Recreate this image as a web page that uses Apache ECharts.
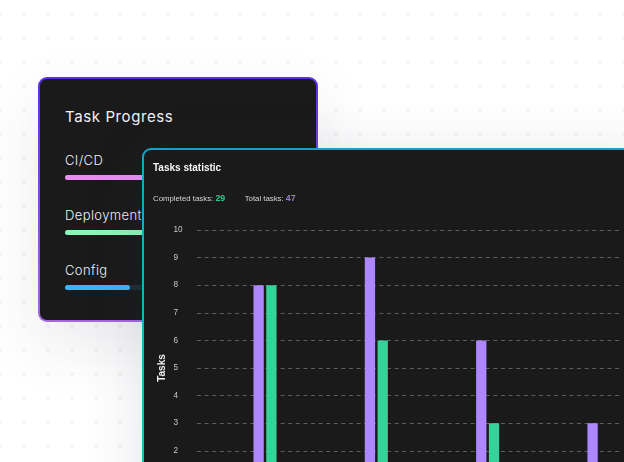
<!DOCTYPE html>
<html lang="en">

<head>
    <meta charset="UTF-8">
    <title>Tasks statistic</title>
    <style>
        * {
            margin: 0;
            padding: 0;
            box-sizing: border-box;
        }

        html,
        body {
            width: 624px;
            height: 462px;
            overflow: hidden;
        }

        body {
            position: relative;
            background-color: #fff;
            background-image: radial-gradient(circle, #f6f6f6 2px, transparent 2.4px);
            background-size: 24px 24px;
            background-position: -12px 2px;
            font-family: "Inter", sans-serif;
        }

        .card {
            position: absolute;
            border-radius: 9px;
            border: 2px solid transparent;
        }

        .progress {
            left: 38px;
            top: 77px;
            width: 280px;
            height: 245px;
            background: linear-gradient(#1a1a1a, #1a1a1a) padding-box, linear-gradient(180deg, #5a2fe6, #a565e0) border-box;
            box-shadow: 0 24px 60px rgba(60, 60, 90, .10);
            color: #f2f2f2;
        }

        .progress h3 {
            position: absolute;
            left: 25px;
            top: 27.5px;
            font-size: 15px;
            font-weight: 400;
            letter-spacing: .6px;
        }

        .row span {
            position: absolute;
            left: 25px;
            font-size: 13px;
            font-weight: 300;
            letter-spacing: .4px;
        }

        .row i {
            position: absolute;
            left: 25px;
            width: 220px;
            height: 5px;
            border-radius: 3px;
        }

        .row b {
            display: block;
            height: 5px;
            border-radius: 3px;
        }

        .stat {
            left: 142px;
            top: 148px;
            width: 520px;
            height: 400px;
            background: linear-gradient(#1a1a1a, #1a1a1a) padding-box, linear-gradient(180deg, #0ea5c9, #22c9a8) border-box;
            box-shadow: 0 10px 60px rgba(60, 60, 90, .14);
        }

        #chart {
            position: absolute;
            left: 0;
            top: 0;
            width: 624px;
            height: 540px;
        }
    </style>
</head>

<body>
    <div class="card progress">
        <h3>Task Progress</h3>
        <div class="row"><span style="top:73px">CI/CD</span><i style="top:96px;background:#3a2a3c"><b
                    style="width:80%;background:#e98df5"></b></i></div>
        <div class="row"><span style="top:128px">Deployment</span><i style="top:151px;background:#20382c"><b
                    style="width:80%;background:#86f9b8"></b></i></div>
        <div class="row"><span style="top:183px">Config</span><i style="top:206px;background:#1f2d35"><b
                    style="width:65px;background:#3fb2f5"></b></i></div>
    </div>
    <div class="card stat"></div>
    <div id="chart"></div>

    <script src="https://cdn.jsdelivr.net/npm/echarts@6/dist/echarts.min.js"></script>
    <script>
        var weeks = [0, 1, 2, 3];
        var totalTasks = [8, 9, 6, 3];
        var completedTasks = [8, 6, 3, 0];
        var yMin = 0;
        var yMax = 10;
        var completedCount = 29;
        var totalCount = 47;

        var myChart = echarts.init(document.getElementById('chart'));

        function pairs(values) {
            return values.map(function (v, i) {
                return [weeks[i], v];
            });
        }

        var chartFont = '"Liberation Sans"';

        var option = {
            backgroundColor: 'transparent',
            animation: false,
            textStyle: { fontFamily: chartFont },
            title: {
                text: 'Tasks statistic',
                left: 153,
                top: 163,
                textStyle: { color: '#f5f5f5', fontSize: 10, fontWeight: 'bold', fontFamily: chartFont },
                subtext: '{l|Completed tasks: }{g|' + completedCount + '}{l|         Total tasks: }{p|' + totalCount + '}',
                itemGap: 21,
                subtextStyle: {
                    rich: {
                        l: { color: '#d6d6d6', fontSize: 7.8, fontFamily: chartFont },
                        g: { color: '#2fc48d', fontSize: 8.8, fontWeight: 'bold', fontFamily: chartFont },
                        p: { color: '#9a78ea', fontSize: 8.8, fontWeight: 'bold', fontFamily: chartFont }
                    }
                },
                padding: 0
            },
            grid: { left: 197, top: 230, width: 424, height: 276 },
            xAxis: {
                type: 'value',
                min: -0.611,
                max: 3.198,
                show: false,
                splitLine: { show: false }
            },
            yAxis: {
                type: 'value',
                min: yMin,
                max: yMax,
                interval: 1,
                name: 'Tasks',
                nameLocation: 'middle',
                nameGap: 30,
                nameMoveOverlap: false,
                nameTextStyle: { color: '#f0f0f0', fontSize: 10, fontWeight: 'bold', fontFamily: chartFont },
                axisLine: { show: false },
                axisTick: { show: false },
                axisLabel: { color: '#c8c8c8', fontSize: 8.2, align: 'left', margin: 23.5, padding: [2, 0, 0, 0], fontFamily: chartFont },
                splitLine: {
                    lineStyle: { color: '#5e5e5e', width: 1, type: [4, 3.6] }
                }
            },
            series: [{
                name: 'Total tasks',
                type: 'bar',
                data: pairs(totalTasks),
                barWidth: 10.3,
                barGap: '24%',
                itemStyle: { color: '#ae87ff' }
            }, {
                name: 'Completed tasks',
                type: 'bar',
                data: pairs(completedTasks),
                barWidth: 10.3,
                itemStyle: { color: '#34d399' }
            }]
        };
        myChart.setOption(option);
    </script>
</body>

</html>
